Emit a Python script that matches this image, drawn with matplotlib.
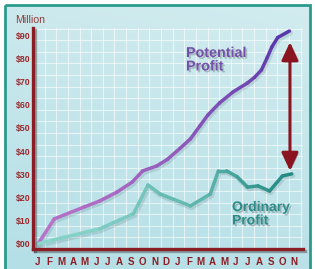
import numpy as np
import matplotlib
matplotlib.use("Agg")
import matplotlib.pyplot as plt
from matplotlib.collections import LineCollection
from matplotlib.colors import LinearSegmentedColormap, to_rgb
from matplotlib.patches import Rectangle, FancyArrowPatch
import matplotlib.patheffects as pe

# ---- data ----
month_labels = ["J", "F", "M", "A", "M", "J", "J", "A", "S", "O", "N", "D",
                "J", "F", "M", "A", "M", "J", "J", "A", "S", "O", "N"]
y_ticks = [0, 10, 20, 30, 40, 50, 60, 70, 80, 90]
y_tick_labels = ["$00", "$10", "$20", "$30", "$40", "$50", "$60", "$70", "$80", "$90"]

potential_x = [0, 1.4, 4.0, 5.3, 6.8, 8.1, 9.0, 10.2, 11.1, 12.2, 13.1, 13.9,
               14.6, 15.6, 16.75, 18.0, 18.6, 19.2, 19.7, 20.1, 20.6, 21.6]
potential_y = [0, 10.8, 16.0, 18.5, 22.4, 26.7, 31.5, 33.6, 36.4, 41.2, 45.3, 50.8,
               55.6, 60.8, 65.5, 69.4, 71.8, 75.0, 80.4, 85.0, 89.0, 91.8]

ordinary_x = [0, 1.3, 5.3, 8.2, 9.45, 10.5, 13.1, 14.8, 15.5, 16.2, 17.1, 18.0,
              18.9, 19.9, 21.0, 21.8]
ordinary_y = [0, 1.7, 6.5, 13.0, 25.4, 21.5, 16.4, 21.5, 31.5, 31.5, 29.0, 24.5,
              25.0, 22.8, 29.3, 30.2]

gap_x = 21.65
gap_low = 31.5
gap_high = 87.0

# ---- figure ----
W, H = 315, 269
fig = plt.figure(figsize=(W / 100, H / 100), dpi=100)
fig.patch.set_facecolor("white")

bg = fig.add_axes([0, 0, 1, 1])
bg.set_xlim(0, W)
bg.set_ylim(H, 0)
bg.axis("off")
gy, gx = np.mgrid[0:1:100j, 0:1:100j]
c_top = np.array(to_rgb("#d2ecef"))
c_bot = np.array(to_rgb("#b4dfe6"))
t = np.clip(gy * 0.8 + (1 - gx) * 0.2, 0, 1)[..., None]
img = c_top * (1 - t) + c_bot * t
bg.imshow(img, extent=(5, 310, 272, 5), aspect="auto", zorder=0)
bg.add_patch(Rectangle((5, 5), 305, 280, fill=False, ec="#2a9a8c", lw=2.0, zorder=2))

ax = fig.add_axes([33 / W, 20 / H, 270 / W, 221 / H])
ax.set_facecolor("none")
x0, x1 = -0.43, 22.77
y0, y1 = -2.2, 93.1
ax.set_xlim(x0, x1)
ax.set_ylim(y0, y1)

# grid lattice
for k in range(1, 24):
    ax.axvline(x0 + k, color="white", lw=0.8, alpha=0.6, zorder=0.5)
for k in range(1, 20):
    ax.axhline(y0 + 5 * k, color="white", lw=0.8, alpha=0.6, zorder=0.5)

red = "#8c1c24"
for s in ["top", "right"]:
    ax.spines[s].set_visible(False)
for s in ["left", "bottom"]:
    ax.spines[s].set_color(red)
    ax.spines[s].set_linewidth(2.4)
    ax.spines[s].set_zorder(5)
    ax.spines[s].set_path_effects([pe.SimpleLineShadow(offset=(1.2, -1.2), alpha=0.3), pe.Normal()])

ax.set_xticks(range(len(month_labels)))
ax.set_xticklabels(month_labels)
ax.set_yticks(y_ticks)
ax.set_yticklabels(y_tick_labels)
ax.tick_params(axis="both", length=0)
ax.tick_params(axis="x", pad=5.5)
ax.tick_params(axis="y", pad=2)
for lab in ax.get_xticklabels():
    lab.set_fontfamily("Liberation Sans")
    lab.set_fontweight("bold")
    lab.set_fontsize(7)
    lab.set_color(red)
for lab in ax.get_yticklabels():
    lab.set_fontfamily("Liberation Sans")
    lab.set_fontweight("bold")
    lab.set_fontsize(6.3)
    lab.set_color("#9a2a2e")


def gradient_line(xs, ys, c0, c1, lw, z):
    pts = np.column_stack([xs, ys]).reshape(-1, 1, 2)
    segs = np.concatenate([pts[:-1], pts[1:]], axis=1)
    cmap = LinearSegmentedColormap.from_list("g", [c0, c1])
    cols = cmap(np.linspace(0, 1, len(segs)))
    ax.plot(np.array(xs) + 0.1, np.array(ys) - 0.8, color="#335560", alpha=0.15,
            lw=lw + 1.0, solid_joinstyle="round", solid_capstyle="round", zorder=z - 0.5)
    lc = LineCollection(segs, colors=cols, linewidths=lw, capstyle="round",
                        joinstyle="round", zorder=z)
    ax.add_collection(lc)


gradient_line(potential_x, potential_y, "#b872c8", "#5838aa", 2.5, 3)
gradient_line(ordinary_x, ordinary_y, "#8ad6cc", "#238a84", 2.5, 3)

arrow = FancyArrowPatch((gap_x, gap_low), (gap_x, gap_high),
                        arrowstyle="<|-|>,head_length=0.9,head_width=0.42",
                        mutation_scale=12, color="#8a1420", lw=2.2,
                        shrinkA=0, shrinkB=0, zorder=4)
arrow.set_path_effects([pe.SimplePatchShadow(offset=(1.2, -1.2), alpha=0.3), pe.Normal()])
ax.add_patch(arrow)

shadow = [pe.SimplePatchShadow(offset=(1.3, -1.3), alpha=0.3, shadow_rgbFace="#404a50"), pe.Normal()]
fig.text(15 / W, 1 - 20 / H, "Million", ha="left", va="center", fontsize=7.6,
         family="Liberation Sans", color="#8e3a3a")
fig.text(186 / W, 1 - 46 / H, "Potential\nProfit", ha="left", va="top", fontsize=10.3,
         family="Liberation Sans", fontweight="bold", color="#7450aa", linespacing=0.95,
         path_effects=shadow)
fig.text(232 / W, 1 - 200 / H, "Ordinary\nProfit", ha="left", va="top", fontsize=10.0,
         family="Liberation Sans", fontweight="bold", color="#2c8c88", linespacing=0.95,
         path_effects=shadow)

fig.savefig("out.png", dpi=100)
